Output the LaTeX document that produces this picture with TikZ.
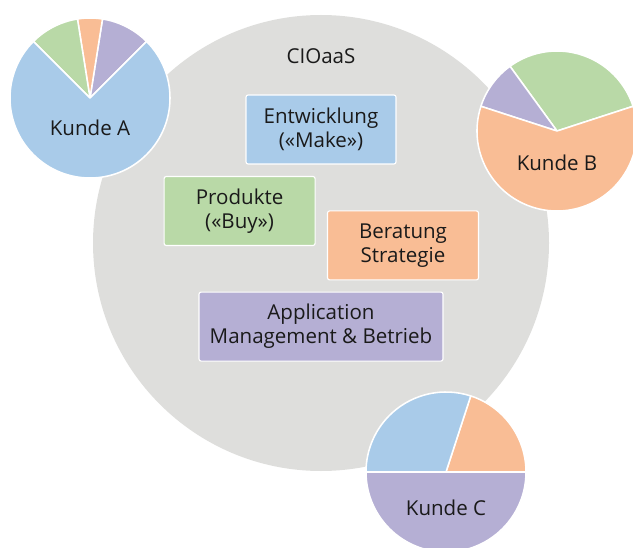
\documentclass[tikz,border=0pt]{standalone}
\usepackage{fontspec}
\setmainfont{Open Sans}
\usepackage{xcolor}
\usetikzlibrary{positioning}
\definecolor{cblue}{HTML}{A9CBE9}
\definecolor{cgreen}{HTML}{B9D9A7}
\definecolor{corange}{HTML}{F9BD95}
\definecolor{cpurple}{HTML}{B5AFD4}
\definecolor{cgrey}{HTML}{DEDEDC}
\definecolor{ctext}{HTML}{1A1A1A}
\tikzset{box/.style={rectangle, draw=white, line width=0.8pt, rounded corners=1.5pt, minimum height=1.725cm, align=center, text=ctext, font=\fontsize{14.6}{17}\selectfont}}
\tikzset{slice/.style={draw=white, line width=1.1pt, line join=round}}
\tikzset{label/.style={text=ctext, font=\fontsize{14.6}{17}\selectfont}}

\begin{document}
\begin{tikzpicture}
        \clip (0,0) rectangle (15.825,13.675);
        \useasboundingbox (0,0) rectangle (15.825,13.675);

        % service circle
        \node (cioaas) [circle, fill=cgrey, minimum size=11.4cm, inner sep=0pt] at (8.025,7.6) {};
        \node (title) [label, yshift=4.66cm] at (cioaas) {CIOaaS};

        % customer pies
        \coordinate (pieA) at (2.25,11.225);
        \coordinate (pieB) at (13.925,10.4);
        \coordinate (pieC) at (11.15,1.875);
        \foreach \from/\to/\col in {45/81/cpurple, 81/99/corange, 99/135/cgreen, 135/405/cblue}
            \filldraw [slice, fill=\col] (pieA) -- ++(\from:2) arc (\from:\to:2) -- cycle;
        \foreach \from/\to/\col in {18/126/cgreen, 126/162/cpurple, 162/378/corange}
            \filldraw [slice, fill=\col] (pieB) -- ++(\from:2) arc (\from:\to:2) -- cycle;
        \foreach \from/\to/\col in {0/72/corange, 72/180/cblue, 180/360/cpurple}
            \filldraw [slice, fill=\col] (pieC) -- ++(\from:2) arc (\from:\to:2) -- cycle;

        \node (kundeA) [label, yshift=-0.75cm] at (pieA) {Kunde A};
        \node (kundeB) [label, yshift=-0.8cm] at (pieB) {Kunde B};
        \node (kundeC) [label, yshift=-0.9cm] at (pieC) {Kunde C};

        % services
        \node (make) [box, fill=cblue, minimum width=3.75cm, yshift=2.8375cm] at (cioaas) {Entwicklung\\(«Make»)};
        \node (buy) [box, fill=cgreen, minimum width=3.775cm, xshift=-2.035cm, yshift=0.8cm] at (cioaas) {Produkte\\(«Buy»)};
        \node (beratung) [box, fill=corange, minimum width=3.775cm, xshift=2.05cm, yshift=-0.06cm] at (cioaas) {Beratung\\Strategie};
        \node (betrieb) [box, fill=cpurple, minimum width=6.1cm, yshift=-2.09cm] at (cioaas) {Application\\Management \& Betrieb};
    \end{tikzpicture}
\end{document}
